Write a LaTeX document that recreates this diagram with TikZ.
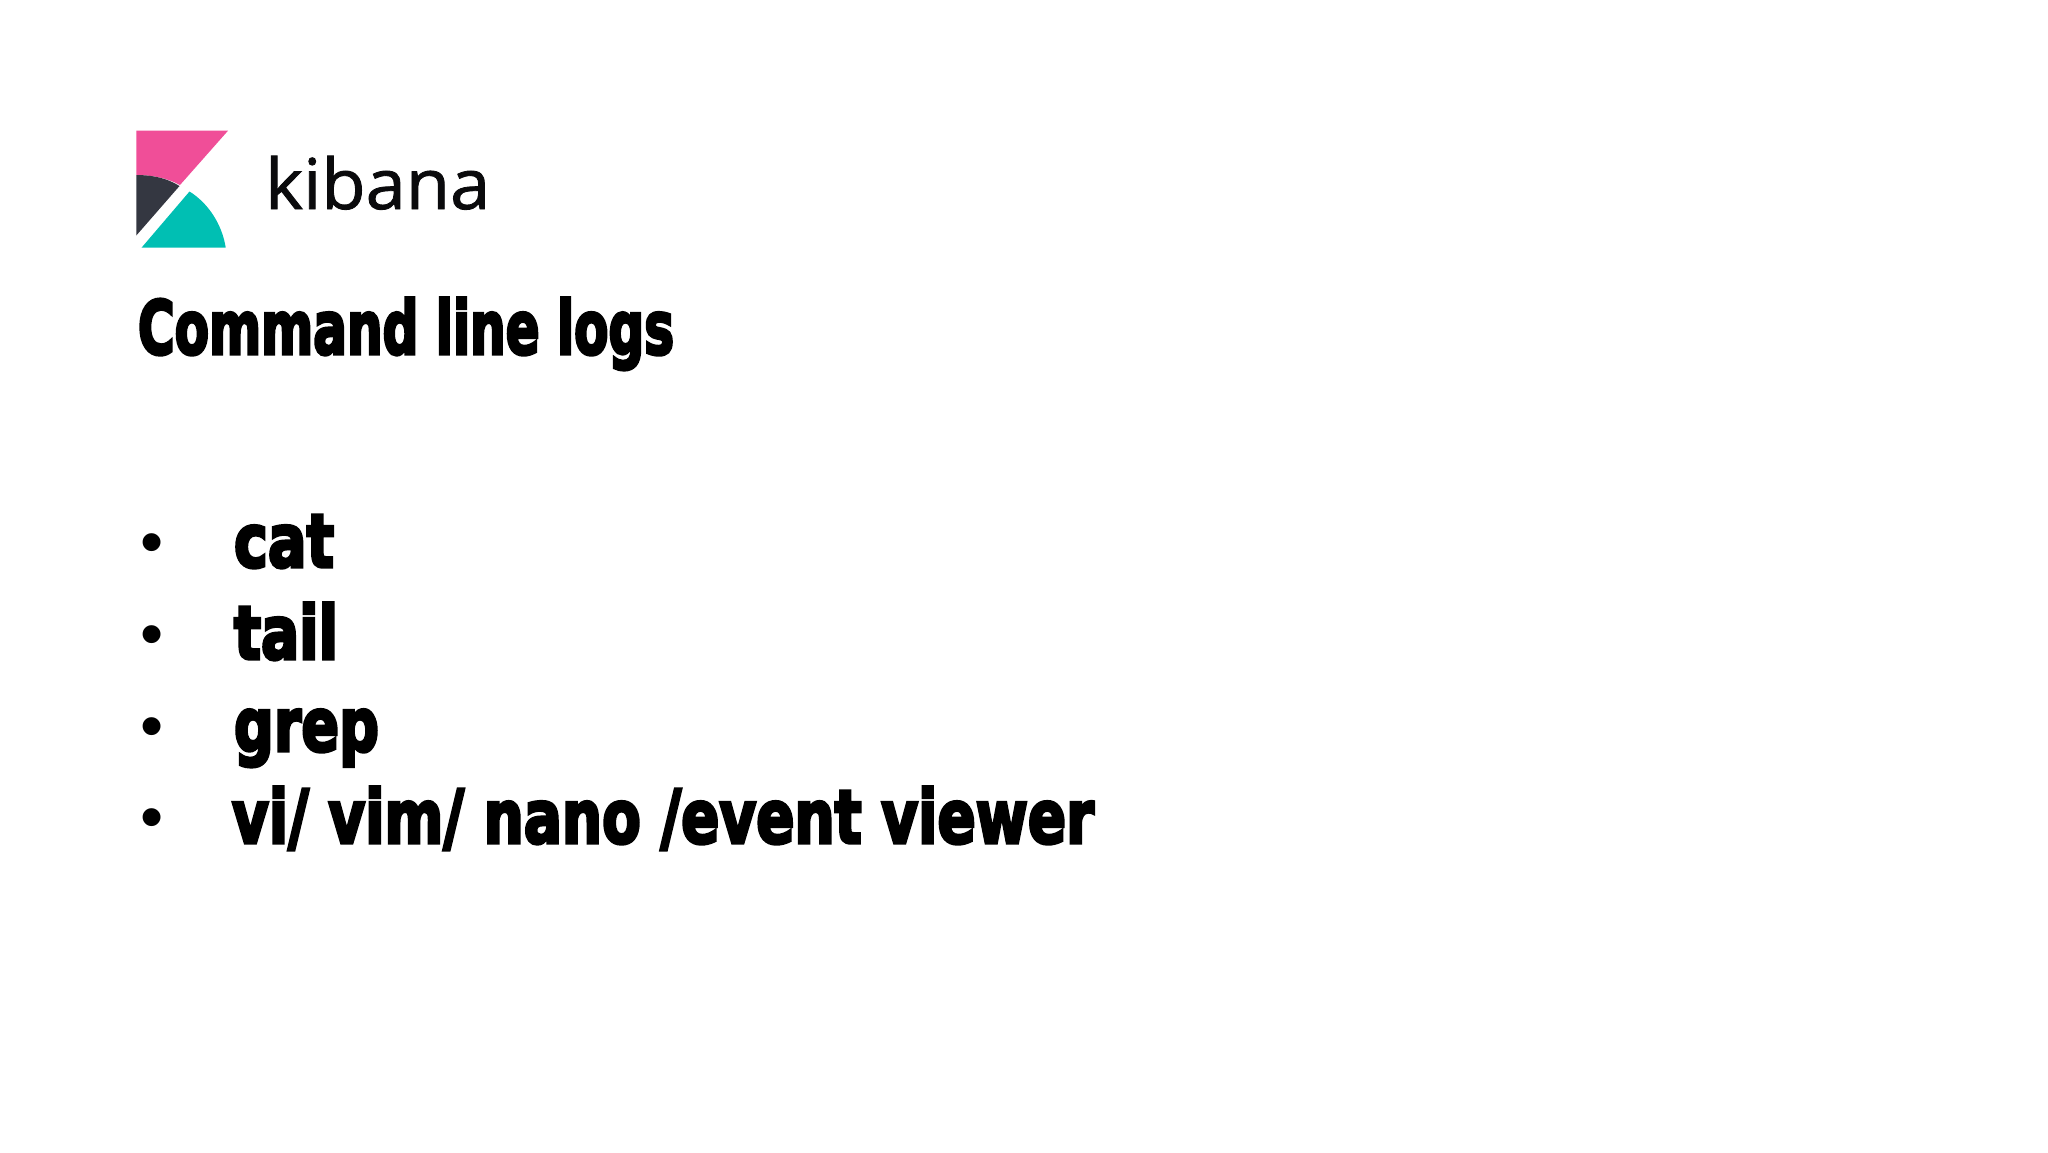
\documentclass[tikz,border=0pt]{standalone}
\usepackage{fontspec}
\usepackage{graphicx}
\setmainfont{Liberation Sans}
\newfontfamily\logofont[FakeBold=1.2]{Open Sans}
\newfontfamily\heavyfont[FakeBold=4.5]{DejaVu Sans Bold}
\newfontfamily\dotfont{Liberation Sans}
\definecolor{kpink}{HTML}{F04E98}
\definecolor{kdark}{HTML}{343741}
\definecolor{kteal}{HTML}{00BFB3}
\newcommand{\fitw}[2]{\resizebox{#1}{\height}{#2}}
\tikzset{
  x=1pt,y=-1pt,
  heavy/.style={anchor=base west,inner sep=0pt,outer sep=0pt,font=\heavyfont\fontsize{74}{74}\selectfont,text=black},
  dotmark/.style={anchor=base,inner sep=0pt,outer sep=0pt,font=\dotfont\fontsize{66}{66}\selectfont,text=black}
}
\begin{document}
\begin{tikzpicture}
\useasboundingbox[fill=white] (0,0) rectangle (2048,1152);
% logo
\fill[kpink] (136.3,130.7) -- (228,130.7) -- (180,185) .. controls (167,178) and (152,175) .. (136.3,175) -- cycle;
\fill[kdark] (136.3,175) .. controls (152,175) and (167,178) .. (179.5,186) -- (136.3,235.5) -- cycle;
\fill[kteal] (141.7,247.5) -- (189.5,191.5) .. controls (208,203) and (222,224) .. (225.7,247.5) -- cycle;
\node[anchor=base west,inner sep=0pt,font=\logofont\fontsize{70}{70}\selectfont,text={rgb,255:red,10;green,10;blue,12}] (kib) at (265,209) {\fitw{225pt}{kibana}};
% title
\node[heavy] (title) at (138,354) {\fitw{536pt}{Command line logs}};
% list
\node[dotmark] (b1) at (152,564) {•};
\node[dotmark] (b2) at (152,656) {•};
\node[dotmark] (b3) at (152,748) {•};
\node[dotmark] (b4) at (152,839) {•};
\node[heavy] (i1) at (234,567) {\fitw{100pt}{cat}};
\node[heavy] (i2) at (234,659) {\fitw{104pt}{tail}};
\node[heavy] (i3) at (234,751) {\fitw{145pt}{grep}};
\node[heavy] (i4) at (232,843) {\fitw{862pt}{vi/ vim/ nano /event viewer}};
\end{tikzpicture}
\end{document}
